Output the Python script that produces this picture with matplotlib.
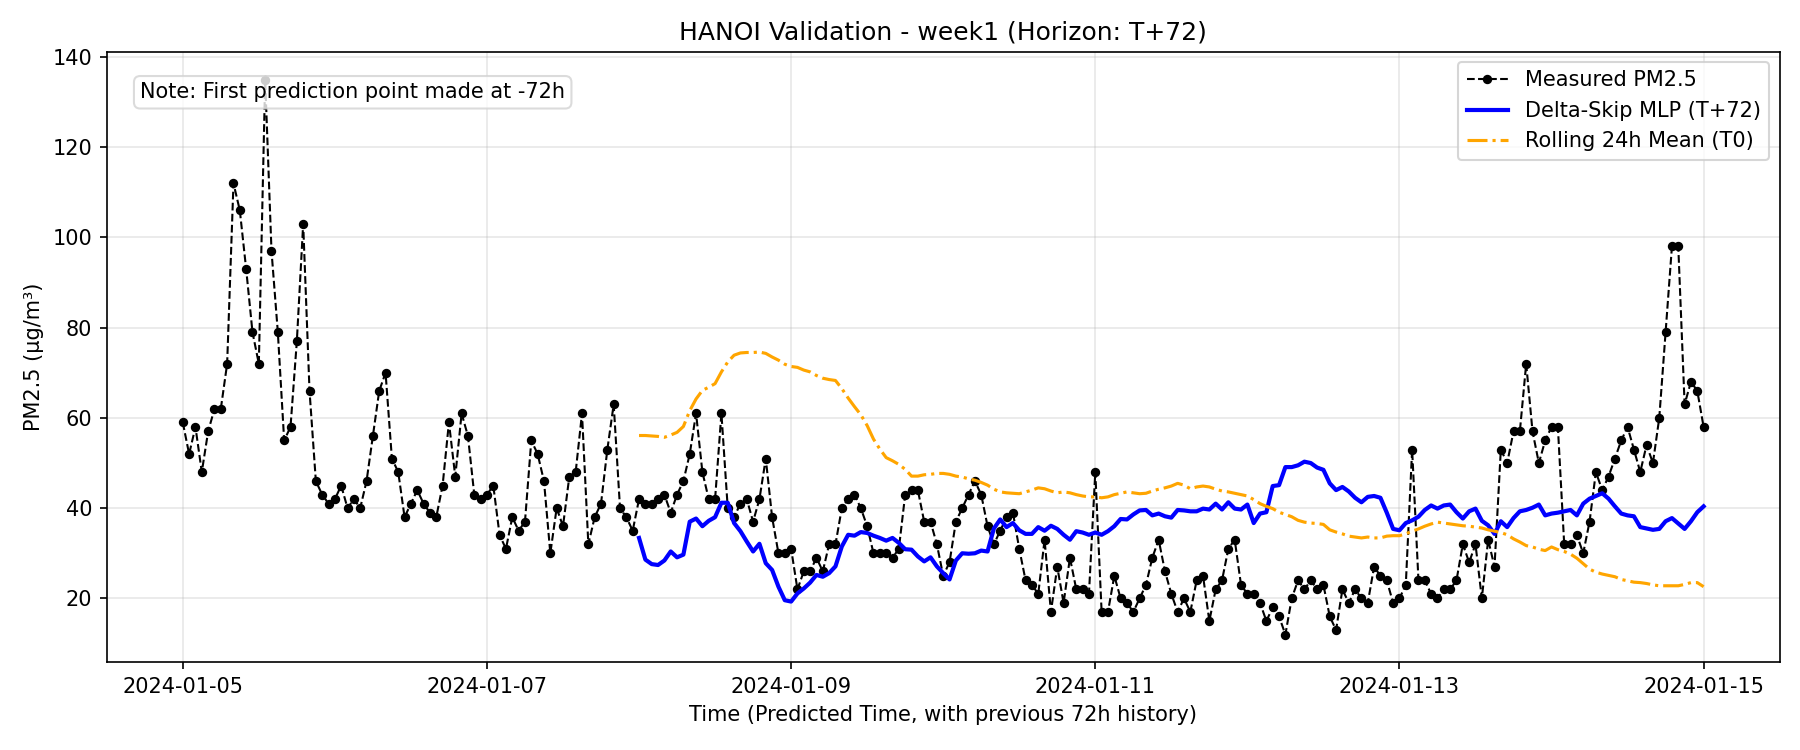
import numpy as np
import matplotlib
matplotlib.use("Agg")
import matplotlib.pyplot as plt
import matplotlib.dates as mdates
import pandas as pd

# hourly measured PM2.5, 2024-01-05 00:00 .. 2024-01-15 00:00
measured = [
    59, 52, 58, 48, 57, 62, 62, 72, 112, 106, 93, 79, 72, 135, 97, 79, 55, 58, 77, 103, 66, 46, 43, 41,
    42, 45, 40, 42, 40, 46, 56, 66, 70, 51, 48, 38, 41, 44, 41, 39, 38, 45, 59, 47, 61, 56, 43, 42,
    43, 45, 34, 31, 38, 35, 37, 55, 52, 46, 30, 40, 36, 47, 48, 61, 32, 38, 41, 53, 63, 40, 38, 35,
    42, 41, 41, 42, 43, 39, 43, 46, 52, 61, 48, 42, 42, 61, 40, 38, 41, 42, 37, 42, 51, 38, 30, 30,
    31, 22, 26, 26, 29, 26, 32, 32, 40, 42, 43, 40, 36, 30, 30, 30, 29, 31, 43, 44, 44, 37, 37, 32,
    25, 28, 37, 40, 43, 46, 43, 36, 32, 35, 38, 39, 31, 24, 23, 21, 33, 17, 27, 19, 29, 22, 22, 21,
    48, 17, 17, 25, 20, 19, 17, 20, 23, 29, 33, 26, 21, 17, 20, 17, 24, 25, 15, 22, 24, 31, 33, 23,
    21, 21, 19, 15, 18, 16, 12, 20, 24, 22, 24, 22, 23, 16, 13, 22, 19, 22, 20, 19, 27, 25, 24, 19,
    20, 23, 53, 24, 24, 21, 20, 22, 22, 24, 32, 28, 32, 20, 33, 27, 53, 50, 57, 57, 72, 57, 50, 55,
    58, 58, 32, 32, 34, 30, 37, 48, 44, 47, 51, 55, 58, 53, 48, 54, 50, 60, 79, 98, 98, 63, 68, 66, 58,
]

# model prediction, 2024-01-08 00:00 .. 2024-01-15 00:00
mlp_pred = [
    33.4, 28.6, 27.6, 27.4, 28.4, 30.4, 29.1, 29.7, 37.0, 37.7, 36.0, 37.2, 38.0, 41.2, 41.2, 36.7, 34.9, 32.6, 30.4, 32.1, 27.8, 26.3, 22.6, 19.6,
    19.3, 21.1, 22.2, 23.5, 25.2, 24.8, 25.6, 27.1, 31.5, 34.1, 33.9, 34.7, 34.5, 33.9, 33.4, 32.8, 33.4, 32.3, 30.9, 30.8, 29.3, 28.2, 29.1, 27.1,
    25.6, 24.2, 28.4, 30.0, 29.9, 30.0, 30.6, 30.4, 35.5, 37.5, 35.8, 36.7, 35.1, 34.3, 34.3, 35.8, 35.0, 36.1, 35.4, 34.1, 33.0, 34.9, 34.6, 34.1,
    34.6, 34.1, 34.9, 36.0, 37.6, 37.5, 38.6, 39.5, 39.6, 38.4, 38.8, 38.2, 37.9, 39.6, 39.5, 39.3, 39.3, 39.9, 39.7, 41.0, 39.7, 41.3, 39.9, 39.7,
    40.8, 36.7, 38.8, 39.1, 44.9, 45.1, 49.1, 49.1, 49.5, 50.3, 50.0, 49.0, 48.5, 45.5, 44.0, 44.7, 43.7, 42.3, 41.3, 42.5, 42.7, 42.3, 39.0, 35.4,
    35.1, 36.7, 37.3, 38.1, 39.6, 40.6, 39.9, 40.6, 40.8, 39.1, 37.7, 39.3, 39.9, 37.2, 36.2, 34.3, 37.1, 35.8, 37.8, 39.3, 39.6, 40.1, 40.8, 38.4,
    38.8, 39.0, 39.3, 39.6, 38.4, 41.0, 42.1, 42.7, 43.3, 42.1, 40.4, 38.8, 38.4, 38.2, 35.8, 35.5, 35.2, 35.4, 37.1, 37.8, 36.6, 35.4, 37.1, 39.1, 40.4,
]

# rolling 24h mean baseline, same period as prediction
rolling_mean = [
    56.1, 56.1, 56.0, 55.9, 55.7, 56.2, 56.8, 58.1, 61.6, 64.2, 66.1, 66.8, 67.6, 70.2, 72.4, 73.9, 74.4, 74.5, 74.5, 74.6, 74.3, 73.5, 72.8, 71.9,
    71.4, 71.2, 70.6, 70.2, 69.4, 68.8, 68.5, 68.3, 66.5, 64.4, 62.5, 60.7, 58.3, 55.3, 53.1, 51.2, 50.5, 49.7, 48.6, 47.1, 47.1, 47.4, 47.5, 47.7,
    47.7, 47.5, 47.1, 46.9, 46.5, 46.2, 45.7, 45.1, 44.2, 43.6, 43.4, 43.3, 43.2, 43.6, 44.0, 44.5, 44.3, 43.8, 43.4, 43.6, 43.4, 43.0, 42.7, 42.5,
    42.5, 42.3, 42.5, 43.0, 43.3, 43.6, 43.4, 43.2, 43.3, 43.8, 44.2, 44.5, 44.9, 45.5, 45.1, 44.3, 44.7, 44.9, 44.7, 44.2, 43.8, 43.6, 43.3, 43.0,
    42.7, 41.9, 41.0, 40.4, 39.9, 39.1, 38.6, 38.1, 37.3, 36.9, 36.7, 36.6, 36.4, 35.2, 34.7, 34.3, 33.8, 33.6, 33.4, 33.6, 33.4, 33.4, 33.8, 33.9,
    33.9, 34.3, 34.9, 35.4, 36.0, 36.5, 36.9, 36.7, 36.5, 36.3, 36.1, 36.0, 35.8, 35.6, 35.2, 34.9, 34.6, 34.1, 33.2, 32.5, 31.7, 31.4, 30.9, 30.6,
    31.4, 30.8, 30.4, 29.8, 28.9, 27.7, 26.5, 25.8, 25.4, 25.1, 24.8, 24.2, 23.9, 23.6, 23.5, 23.3, 23.0, 22.8, 22.8, 22.8, 22.8, 23.1, 23.5, 23.5, 22.6,
]

t_all = pd.date_range("2024-01-05 00:00", periods=len(measured), freq="h")
t_pred = pd.date_range("2024-01-08 00:00", periods=len(mlp_pred), freq="h")

fig, ax = plt.subplots(figsize=(12, 5), dpi=150)
fig.subplots_adjust(left=0.0593, right=0.9887, top=0.931, bottom=0.117)

ax.plot(t_all, measured, color="black", linestyle="--", linewidth=1, marker="o",
        markersize=3.5, label="Measured PM2.5")
ax.plot(t_pred, mlp_pred, color="blue", linewidth=2, label="Delta-Skip MLP (T+72)")
ax.plot(t_pred, rolling_mean, color="orange", linestyle="-.", linewidth=1.5,
        label="Rolling 24h Mean (T0)")

ax.text(0.02, 0.95, "Note: First prediction point made at -72h", transform=ax.transAxes,
        va="top", ha="left", fontsize=10,
        bbox=dict(boxstyle="round", facecolor="white", edgecolor="lightgrey", alpha=0.8))

ax.xaxis.set_major_locator(mdates.DayLocator(interval=2))
ax.xaxis.set_major_formatter(mdates.DateFormatter("%Y-%m-%d"))
ax.grid(True, alpha=0.3)
ax.set_title("HANOI Validation - week1 (Horizon: T+72)", fontsize=12)
ax.set_xlabel("Time (Predicted Time, with previous 72h history)")
ax.set_ylabel("PM2.5 (µg/m³)")
ax.legend(loc="upper right")

fig.savefig("out.png", dpi=150)
